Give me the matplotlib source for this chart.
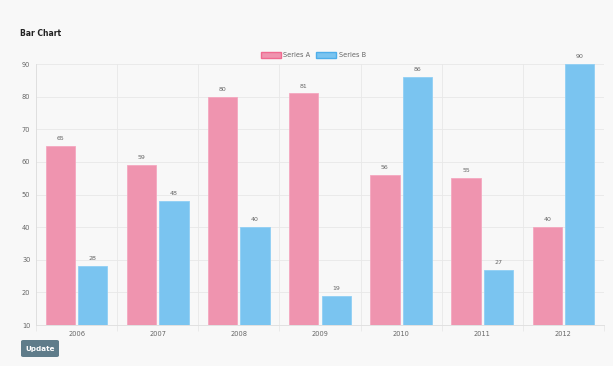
import numpy as np
import matplotlib
matplotlib.use("Agg")
import matplotlib.pyplot as plt
from matplotlib.patches import FancyBboxPatch, Patch

years    = ["2006", "2007", "2008", "2009", "2010", "2011", "2012"]
series_a = [65, 59, 80, 81, 56, 55, 40]
series_b = [28, 48, 40, 19, 86, 27, 90]

BG       = "#f8f8f8"
FILL_A   = "#ef94af"
EDGE_A   = "#f5a8c0"
FILL_B   = "#7ac4f0"
EDGE_B   = "#90cff5"
GRID     = "#e8e8e8"
TXT      = "#666666"

fig = plt.figure(figsize=(6.13, 3.66), dpi=100, facecolor=BG)
ax = fig.add_axes([0.0587, 0.112, 0.9266, 0.713], facecolor=BG)

x = np.arange(len(years))
bw = 0.8 / 2 * 0.9
off = 0.8 / 4
ax.bar(x - off, series_a, bw, bottom=0, color=FILL_A, edgecolor=EDGE_A, linewidth=0.6, zorder=3)
ax.bar(x + off, series_b, bw, bottom=0, color=FILL_B, edgecolor=EDGE_B, linewidth=0.6, zorder=3)

for xi, a, b in zip(x, series_a, series_b):
    ax.text(xi - off, a + 1.5, str(a), ha="center", va="bottom", fontsize=4.5, color=TXT)
    ax.text(xi + off, b + 1.5, str(b), ha="center", va="bottom", fontsize=4.5, color=TXT)

ax.set_xlim(-0.5, len(years) - 0.5)
ax.set_ylim(10, 90)
ax.set_yticks(range(10, 91, 10))
ax.set_xticks(x)
ax.set_xticklabels(years)
ax.set_xticks(np.arange(-0.5, len(years), 1), minor=True)
ax.tick_params(axis="both", labelsize=4.8, colors=TXT, length=0, pad=4)
ax.tick_params(axis="x", which="minor", length=4, color=GRID)
ax.grid(axis="y", color=GRID, linewidth=0.6, zorder=0)
ax.grid(axis="x", which="minor", color=GRID, linewidth=0.6, zorder=0)
for s in ["top", "right"]:
    ax.spines[s].set_visible(False)
for s in ["left", "bottom"]:
    ax.spines[s].set_color("#dddddd")
    ax.spines[s].set_linewidth(0.6)

handles = [Patch(facecolor=FILL_A, edgecolor="#f06a90", label="Series A"),
           Patch(facecolor=FILL_B, edgecolor="#4eaeea", label="Series B")]
fig.legend(handles=handles, loc="center", bbox_to_anchor=(0.511, 0.85), ncol=2,
           frameon=False, fontsize=4.8, handlelength=3.0, handleheight=1.0,
           handletextpad=0.4, columnspacing=0.8, labelcolor=TXT)

fig.text(20 / 613, 1 - 33 / 366, "Bar Chart", fontsize=5.5, fontweight="bold",
         color="#222222", va="center", ha="left")

btn = FancyBboxPatch((21 / 613, 1 - 357 / 366), 38 / 613, 17 / 366,
                     boxstyle="round,pad=0,rounding_size=0.004",
                     transform=fig.transFigure, facecolor="#5f7c8a", edgecolor="none")
fig.patches.append(btn)
fig.text(40 / 613, 1 - 348.5 / 366, "Update", fontsize=5.2, fontweight="bold",
         color="white", ha="center", va="center")

fig.savefig("out.png", dpi=100, facecolor=BG)
